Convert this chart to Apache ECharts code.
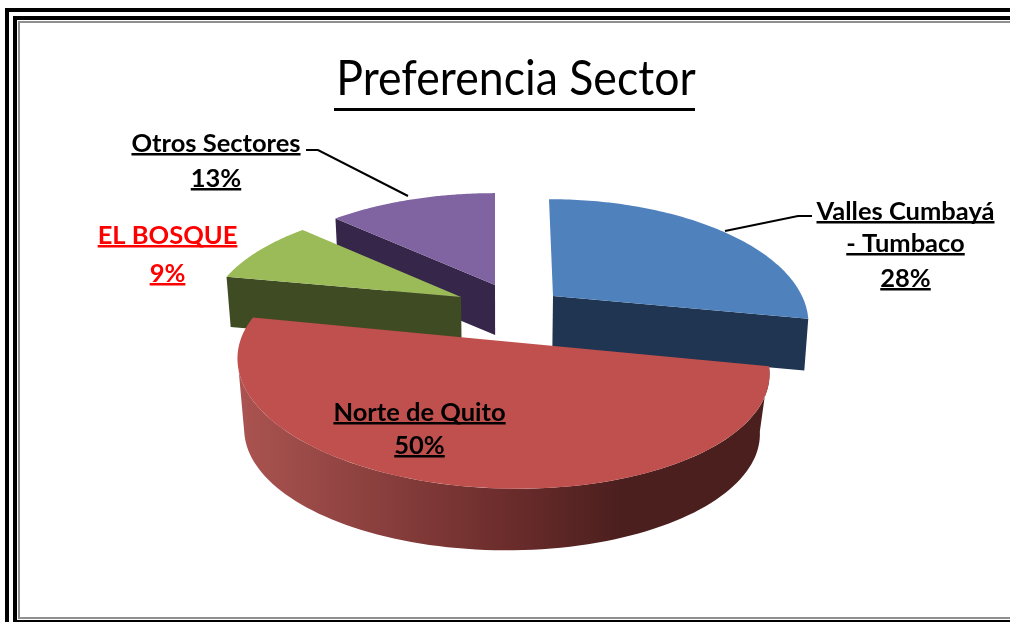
<!DOCTYPE html>
<html><head><meta charset="utf-8">
<style>html,body{margin:0;padding:0;background:#fff}#c{width:1010px;height:622px}</style>
<script src="https://cdn.jsdelivr.net/npm/echarts@6/dist/echarts.min.js"></script>
</head><body><div id="c"></div>
<script>
var chartTitle = 'Preferencia Sector';
var categories = ['Valles Cumbayá - Tumbaco', 'Norte de Quito', 'EL BOSQUE', 'Otros Sectores'];
var values = [28, 50, 9, 13];
var topColors = ['#4f81bd', '#c0504d', '#9bbb59', '#8064a2'];
var sideColors = ['#1f3552', '#4a1f1e', '#3f4b23', '#35264a'];
var labelColors = ['#000000', '#000000', '#ff0000', '#000000'];
var labelLines = [['Valles Cumbayá', '- Tumbaco'], ['Norte de Quito'], ['EL BOSQUE'], ['Otros Sectores']];

// Drawing layout of each exploded slice (screen apex, radii, thickness)
var K = 0.208, VX = 503;
var layout = [
  {cx:553, cy:296, a:249, b:117, tx:4,  ty:0,   d:52, q:0.987, bx:0, face:'end',   z:3},
  {cx:501, cy:341, a:260, b:117, tx:12, ty:2.5, d:66, q:0.97,  bx:1, face:'wall',  z:4},
  {cx:461, cy:297, a:248, b:112, tx:0,  ty:0,   d:50, q:0.985, bx:0, face:'start', z:2},
  {cx:495, cy:285, a:250, b:111, tx:0,  ty:0,   d:50, q:0.985, bx:0, face:'start', z:1}
];
var labelPos = [
  {x:905.5, ys:[221, 253, 288]},
  {x:419.5, ys:[422, 455]},
  {x:167.5, ys:[245, 283]},
  {x:216,   ys:[153, 188]}
];
var leaders = [
  [[812,216],[798,216],[725,231]],
  null, null,
  [[306,150],[318,150],[408,196]]
];
var FONT_SIZE = 25.5;
var WALL_TURN = 165 * Math.PI / 180;
var total = values.reduce(function(s,v){return s+v;},0);

function pt(L, th, bottom){
  var X=Math.cos(th), Y=Math.sin(th), w=1/(1-K*Y);
  var x=L.cx+L.a*X*w+L.tx*Y, y=L.cy+L.b*Y*w+L.ty*X;
  if(bottom){
    x=VX+(L.cx-VX)*L.q + L.bx + L.a*L.q*X*w + (L.bx?0:L.tx*Y);
    y=L.cy+L.d+L.b*L.q*Y*w+L.ty*X;
  }
  return [x,y];
}
function arc(L,t0,t1,bottom){
  var out=[],n=90;
  for(var i=0;i<=n;i++){out.push(pt(L,t0+(t1-t0)*i/n,bottom));}
  return out;
}
var mctx=document.createElement('canvas').getContext('2d');
function textW(s){mctx.font='bold '+FONT_SIZE+'px Lato';return mctx.measureText(s).width;}

function renderSlice(params, api){
  var i=params.dataIndex, v=api.value(0), L=layout[i];
  var before=0; for(var j=0;j<i;j++){before+=values[j];}
  var t0=-Math.PI/2+before/total*2*Math.PI, t1=t0+v/total*2*Math.PI;
  var kids=[];
  if(L.face==='wall'){
    var tEnd=Math.min(t1,WALL_TURN);
    var top=arc(L,t0,tEnd,false), bot=arc(L,t0,tEnd,true).reverse();
    kids.push({type:'polygon',z2:L.z,shape:{points:top.concat(bot)},
      style:{fill:new echarts.graphic.LinearGradient(238,0,770,0,[
        {offset:0,color:'#ab5451'},{offset:0.5,color:'#6c2d2c'},{offset:0.72,color:'#4b1f1e'},{offset:1,color:'#4a1f1e'}],true)}});
  } else {
    var th=L.face==='end'?t1:t0;
    var apexT=[L.cx,L.cy], rimT=pt(L,th,false), rimB=pt(L,th,true);
    var apexB=[VX+(L.cx-VX)*L.q,L.cy+L.d];
    kids.push({type:'polygon',z2:L.z,shape:{points:[apexT,rimT,rimB,apexB]},style:{fill:sideColors[i]}});
  }
  var pts=[[L.cx,L.cy]].concat(arc(L,t0,t1,false));
  kids.push({type:'polygon',z2:L.z+0.5,shape:{points:pts},style:{fill:topColors[i]}});

  // leader line
  if(leaders[i]){
    kids.push({type:'polyline',z2:6,shape:{points:leaders[i]},style:{fill:null,stroke:'#000',lineWidth:2}});
  }
  // label lines + underlines
  var lines=labelLines[i].concat([Math.round(v/total*100)+'%']);
  lines.forEach(function(t,k){
    var P=labelPos[i], w=textW(t), yU=P.ys[k];
    kids.push({type:'text',z2:7,style:{text:t,x:P.x,y:yU-9,align:'center',verticalAlign:'middle',
      fill:labelColors[i],font:'bold '+FONT_SIZE+'px Lato'}});
    kids.push({type:'rect',z2:7,shape:{x:P.x-w/2,y:yU,width:w,height:2.5},style:{fill:labelColors[i]}});
  });
  return {type:'group',children:kids};
}

var chart=echarts.init(document.getElementById('c'),null,{renderer:'canvas'});
function bar(x,y,w,h,c){return {type:'rect',silent:true,shape:{x:x,y:y,width:w,height:h},style:{fill:c},z:0};}
chart.setOption({
  animation:false,
  backgroundColor:'#fff',
  graphic:[
    bar(5,8,1005,4,'#000'), bar(5,8,4,614,'#000'),
    bar(13,16,997,4,'#000'), bar(13,16,4,606,'#000'), bar(13,620,997,2,'#000'),
    bar(18,21,992,2,'#8f8f8f'), bar(18,21,2,598,'#8f8f8f'), bar(18,617,992,2,'#8f8f8f'),
    {type:'text',silent:true,z:1,x:516,y:80,scaleX:0.93,
      style:{text:chartTitle,align:'center',verticalAlign:'middle',fill:'#000',font:'48px "Lato"'}},
    bar(334,108,361,3,'#000')
  ],
  series:[{type:'custom',coordinateSystem:'none',silent:true,z:2,
    data:values.map(function(v,i){return {name:categories[i],value:[v]};}),
    renderItem:renderSlice}]
});
</script></body></html>
